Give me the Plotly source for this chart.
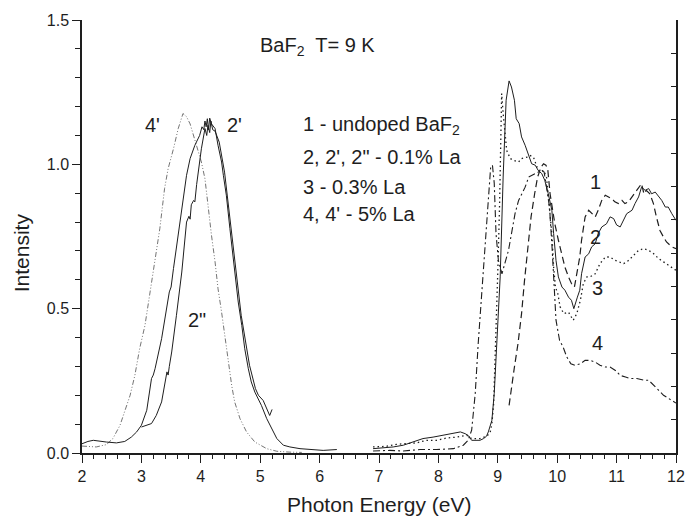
import plotly.graph_objects as go

# ---------------- data ----------------
# 4' : 5% La, left band (dash-dot-dot)
E_4p = [2.0, 2.24, 2.41, 2.52, 2.64, 2.72, 2.81, 2.89, 2.97, 3.06, 3.14, 3.23, 3.31, 3.39, 3.45, 3.54,
        3.62, 3.70, 3.76, 3.82, 3.88, 3.95, 4.01, 4.07, 4.12, 4.18, 4.24, 4.29, 4.35, 4.40, 4.46, 4.52,
        4.57, 4.66, 4.77, 4.91, 5.11, 5.28, 5.50, 5.70]
I_4p = [0.024, 0.021, 0.029, 0.050, 0.096, 0.142, 0.200, 0.269, 0.361, 0.442, 0.546, 0.662, 0.777, 0.916,
        0.985, 1.054, 1.124, 1.176, 1.165, 1.140, 1.100, 1.045, 1.008, 0.950, 0.858, 0.754, 0.662, 0.569,
        0.488, 0.408, 0.315, 0.234, 0.177, 0.119, 0.073, 0.038, 0.015, 0.006, 0.003, 0.002]

# 2' : 0.1% La, left band (solid)
E_2p = [2.0, 2.1, 2.19, 2.3, 2.41, 2.58, 2.72, 2.83, 2.92, 3.00, 3.09, 3.17, 3.20, 3.23, 3.34, 3.47,
        3.50, 3.54, 3.65, 3.76, 3.82, 3.90, 3.98, 4.02, 4.05, 4.07, 4.09, 4.11, 4.13, 4.15, 4.18, 4.21,
        4.24, 4.29, 4.35, 4.38, 4.43, 4.49, 4.52, 4.57, 4.63, 4.69, 4.74, 4.80, 4.85, 4.91, 4.97, 5.02,
        5.11, 5.19, 5.28, 5.39, 5.50, 5.67, 5.84, 6.06, 6.29]
I_2p = [0.032, 0.040, 0.044, 0.040, 0.038, 0.035, 0.040, 0.055, 0.073, 0.096, 0.148, 0.258, 0.270, 0.292,
        0.396, 0.558, 0.575, 0.639, 0.800, 0.962, 1.020, 1.066, 1.100, 1.130, 1.120, 1.150, 1.130, 1.158,
        1.120, 1.160, 1.140, 1.130, 1.124, 1.066, 1.008, 0.962, 0.893, 0.777, 0.719, 0.615, 0.523, 0.442,
        0.361, 0.292, 0.246, 0.211, 0.188, 0.165, 0.119, 0.084, 0.050, 0.027, 0.021, 0.015, 0.012, 0.009,
        0.012]

# 2" : 0.1% La, left band (solid)
E_2pp = [3.00, 3.09, 3.17, 3.25, 3.34, 3.43, 3.45, 3.47, 3.51, 3.59, 3.68, 3.76, 3.80, 3.82, 3.84, 3.88,
         3.90, 3.93, 4.01, 4.07, 4.10, 4.12, 4.15, 4.17, 4.20, 4.24, 4.31, 4.40, 4.54, 4.68, 4.82, 4.92,
         4.97, 5.05, 5.16, 5.20]
I_2pp = [0.090, 0.096, 0.102, 0.130, 0.177, 0.281, 0.270, 0.300, 0.350, 0.477, 0.627, 0.800, 0.820, 0.810,
         0.860, 0.875, 0.870, 0.930, 1.054, 1.124, 1.100, 1.135, 1.110, 1.150, 1.120, 1.115, 1.077, 0.973,
         0.731, 0.477, 0.304, 0.223, 0.200, 0.182, 0.130, 0.151]

# 1 : undoped BaF2 (dashed)
E_1 = [9.19, 9.23, 9.28, 9.34, 9.40, 9.45, 9.51, 9.56, 9.62, 9.67, 9.73, 9.77, 9.81, 9.84, 9.88, 9.92,
       9.96, 10.02, 10.08, 10.13, 10.19, 10.24, 10.29, 10.33, 10.38, 10.41, 10.47, 10.53, 10.58, 10.64,
       10.69, 10.75, 10.81, 10.86, 10.92, 10.97, 11.03, 11.09, 11.14, 11.20, 11.26, 11.31, 11.37, 11.42,
       11.46, 11.50, 11.56, 11.62, 11.67, 11.73, 11.79, 11.84, 11.93, 12.00]
I_1 = [0.165, 0.217, 0.298, 0.379, 0.483, 0.598, 0.714, 0.818, 0.898, 0.956, 0.991, 1.002, 0.997, 0.985,
       0.898, 0.841, 0.794, 0.737, 0.691, 0.644, 0.610, 0.587, 0.575, 0.621, 0.679, 0.737, 0.818, 0.841,
       0.829, 0.818, 0.841, 0.875, 0.893, 0.887, 0.881, 0.870, 0.864, 0.875, 0.864, 0.870, 0.887, 0.898,
       0.916, 0.933, 0.898, 0.910, 0.898, 0.864, 0.818, 0.771, 0.748, 0.731, 0.714, 0.708]

# 2 : 0.1% La (solid)
E_2 = [6.90, 7.07, 7.24, 7.41, 7.58, 7.74, 7.91, 8.08, 8.25, 8.37, 8.45, 8.50, 8.56, 8.64, 8.70, 8.76,
       8.81, 8.84, 8.90, 8.94, 8.98, 9.04, 9.09, 9.14, 9.19, 9.23, 9.28, 9.31, 9.36, 9.40, 9.46, 9.51,
       9.57, 9.63, 9.68, 9.74, 9.79, 9.85, 9.91, 9.94, 9.98, 10.02, 10.08, 10.13, 10.19, 10.24, 10.28,
       10.34, 10.38, 10.41, 10.47, 10.53, 10.58, 10.64, 10.69, 10.75, 10.83, 10.89, 10.95, 11.00, 11.06,
       11.17, 11.26, 11.31, 11.37, 11.42, 11.48, 11.54, 11.59, 11.65, 11.71, 11.76, 11.82, 11.87, 11.93,
       12.00]
I_2 = [0.015, 0.018, 0.021, 0.027, 0.038, 0.050, 0.055, 0.061, 0.067, 0.073, 0.067, 0.061, 0.044, 0.044,
       0.044, 0.050, 0.058, 0.073, 0.113, 0.206, 0.379, 0.610, 0.956, 1.222, 1.289, 1.268, 1.222, 1.158,
       1.141, 1.095, 1.066, 1.037, 1.002, 0.997, 0.979, 0.968, 0.945, 0.898, 0.841, 0.760, 0.667, 0.610,
       0.575, 0.564, 0.540, 0.529, 0.500, 0.540, 0.564, 0.621, 0.679, 0.690, 0.714, 0.725, 0.760, 0.783,
       0.794, 0.818, 0.812, 0.790, 0.783, 0.829, 0.841, 0.864, 0.887, 0.921, 0.910, 0.916, 0.898, 0.904,
       0.887, 0.875, 0.852, 0.852, 0.829, 0.806]

# 3 : 0.3% La (dotted)
E_3 = [6.90, 7.12, 7.29, 7.46, 7.63, 7.80, 7.97, 8.14, 8.31, 8.48, 8.56, 8.70, 8.81, 8.87, 8.90, 8.93,
       8.97, 9.00, 9.03, 9.05, 9.065, 9.09, 9.12, 9.15, 9.21, 9.26, 9.35, 9.40, 9.49, 9.54, 9.60, 9.67,
       9.71, 9.77, 9.82, 9.85, 9.88, 9.91, 9.94, 9.97, 10.01, 10.05, 10.11, 10.19, 10.27, 10.33, 10.39,
       10.44, 10.50, 10.55, 10.64, 10.72, 10.81, 10.89, 10.98, 11.06, 11.12, 11.20, 11.29, 11.37, 11.45,
       11.54, 11.62, 11.71, 11.79, 11.88, 11.96, 12.00]
I_3 = [0.021, 0.023, 0.030, 0.032, 0.035, 0.044, 0.044, 0.052, 0.055, 0.061, 0.050, 0.050, 0.058, 0.070,
       0.100, 0.171, 0.400, 0.630, 0.860, 1.150, 1.245, 1.176, 1.095, 1.048, 1.020, 1.014, 1.008, 1.020,
       1.025, 1.031, 1.025, 0.985, 0.973, 0.979, 0.956, 0.898, 0.841, 0.760, 0.644, 0.575, 0.552, 0.506,
       0.483, 0.488, 0.460, 0.483, 0.529, 0.587, 0.610, 0.610, 0.621, 0.656, 0.679, 0.679, 0.667, 0.662,
       0.656, 0.667, 0.685, 0.702, 0.708, 0.702, 0.691, 0.673, 0.662, 0.650, 0.639, 0.633]

# 4 : 5% La (dash-dot)
E_4 = [6.90, 7.18, 7.41, 7.69, 7.97, 8.25, 8.42, 8.50, 8.56, 8.62, 8.67, 8.73, 8.79, 8.84, 8.88, 8.91,
       8.94, 8.97, 9.01, 9.07, 9.12, 9.18, 9.24, 9.29, 9.35, 9.40, 9.46, 9.52, 9.57, 9.63, 9.68, 9.74,
       9.78, 9.82, 9.87, 9.91, 9.95, 9.98, 10.04, 10.10, 10.16, 10.23, 10.30, 10.39, 10.47, 10.55, 10.64,
       10.72, 10.81, 10.89, 10.98, 11.06, 11.15, 11.23, 11.34, 11.46, 11.54, 11.62, 11.71, 11.79, 11.88,
       11.96, 12.00]
I_4 = [0.007, 0.009, 0.007, 0.012, 0.012, 0.015, 0.027, 0.044, 0.079, 0.206, 0.379, 0.552, 0.725, 0.898,
       0.991, 0.997, 0.935, 0.760, 0.667, 0.621, 0.656, 0.702, 0.771, 0.829, 0.875, 0.898, 0.921, 0.956,
       0.962, 0.968, 0.973, 0.979, 0.973, 0.921, 0.852, 0.725, 0.575, 0.460, 0.390, 0.367, 0.333, 0.309,
       0.304, 0.309, 0.321, 0.321, 0.315, 0.304, 0.298, 0.298, 0.286, 0.269, 0.263, 0.258, 0.258, 0.252,
       0.252, 0.234, 0.217, 0.200, 0.188, 0.177, 0.173]

curve_labels = ["4'", "2'", '2"', "1", "2", "3", "4"]
curve_label_x = [3.19, 4.56, 3.93, 10.65, 10.65, 10.67, 10.67]
curve_label_y = [1.135, 1.135, 0.46, 0.938, 0.747, 0.570, 0.380]

legend_lines = ["1 - undoped BaF<sub>2</sub>", "2, 2', 2\" - 0.1% La", "3 - 0.3% La", "4, 4' - 5% La"]
legend_y = [1.135, 1.024, 0.923, 0.827]

# ---------------- figure ----------------
INK = "#1e1e1e"
FONT = "Liberation Sans, Arial, sans-serif"

fig = go.Figure()

def add(x, y, name, dash, width, color=INK):
    fig.add_trace(go.Scatter(x=x, y=y, mode="lines", name=name,
                             line=dict(color=color, width=width, dash=dash),
                             showlegend=False))

add(E_4p, I_4p, "4'", "5px,2px,1px,2px,1px,2px", 0.8, "#505050")
add(E_2p, I_2p, "2'", "solid", 1.0)
add(E_2pp, I_2pp, '2"', "solid", 1.0)
add(E_1, I_1, "1", "7px,4px", 1.2)
add(E_2, I_2, "2", "solid", 1.0)
add(E_3, I_3, "3", "1.5px,3px", 1.3)
add(E_4, I_4, "4", "7px,3px,2px,3px", 1.1)
# empty trace registering the right-hand axis
fig.add_trace(go.Scatter(x=[], y=[], yaxis="y2", showlegend=False, hoverinfo="skip"))

for t, x, y in zip(curve_labels, curve_label_x, curve_label_y):
    fig.add_annotation(x=x, y=y, text=t, showarrow=False, xanchor="center", yanchor="middle",
                       font=dict(size=20, color=INK))

for t, y in zip(legend_lines, legend_y):
    fig.add_annotation(x=5.69, y=y, text=t, showarrow=False, xanchor="left", yanchor="middle",
                       font=dict(size=20, color=INK))

fig.add_annotation(x=4.965, y=1.408, text="BaF<sub>2</sub>  T= 9 K", showarrow=False,
                   xanchor="left", yanchor="middle", font=dict(size=20, color=INK))

# axis titles
fig.add_annotation(xref="paper", yref="paper", x=-0.1005, y=0.462, text="Intensity",
                   textangle=-90, showarrow=False, xanchor="center", yanchor="middle",
                   font=dict(size=21, color=INK))
fig.add_annotation(xref="paper", yref="paper", x=0.5, y=-0.118, text="Photon Energy (eV)",
                   showarrow=False, xanchor="center", yanchor="middle",
                   font=dict(size=21, color=INK))

fig.update_layout(
    width=686, height=521,
    margin=dict(l=82, r=10, t=20, b=68, autoexpand=False),
    paper_bgcolor="white", plot_bgcolor="white",
    font=dict(family=FONT, color=INK),
    xaxis=dict(range=[2, 12], tick0=2, dtick=1, ticks="outside", ticklen=8, tickwidth=1.4,
               tickcolor=INK, showline=True, linewidth=1.5, linecolor=INK, showgrid=False,
               zeroline=False, tickfont=dict(size=16), automargin=False,
               minor=dict(dtick=0.2, ticks="outside", ticklen=4.5, tickwidth=1.2, tickcolor=INK)),
    yaxis=dict(range=[0, 1.5], tick0=0, dtick=0.5, tickformat=".1f", ticks="outside", ticklen=8,
               tickwidth=1.4, tickcolor=INK, showline=True, linewidth=1.5, linecolor=INK,
               showgrid=False, zeroline=False, tickfont=dict(size=16), automargin=False,
               minor=dict(dtick=0.1, ticks="outside", ticklen=5, tickwidth=1.2, tickcolor=INK)),
    yaxis2=dict(overlaying="y", side="right", range=[0, 13], dtick=1, ticks="inside", ticklen=5,
                tickwidth=1.2, tickcolor=INK, showline=True, linewidth=1.5, linecolor=INK,
                showgrid=False, zeroline=False, showticklabels=False, automargin=False),
)

fig.write_html("out.html", config={"displayModeBar": False},
               post_script="document.body.style.margin='0';document.body.style.padding='0';")
